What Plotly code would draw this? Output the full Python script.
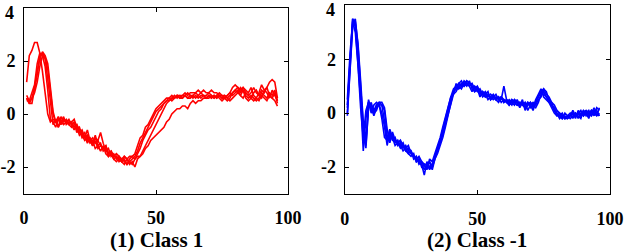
import plotly.graph_objects as go

x_values = list(range(1, 97))

class1_series = [
    [1.2, 2.2, 2.4, 2.7, 2.7, 2.3, 1.6, 0.8, 0.0, -0.3,
     -0.2, -0.3, -0.1, -0.3, -0.2, -0.3, -0.4, -0.3, -0.5, -0.4,
     -0.7, -0.6, -0.9, -0.8, -1.0, -0.9, -1.1, -1.0, -1.2, -1.3,
     -1.2, -1.5, -1.4, -1.6, -1.6, -1.7, -1.8, -1.7, -1.9, -1.8,
     -1.7, -1.6, -1.4, -1.1, -0.9, -0.7, -0.5, -0.3, -0.1, 0.1,
     0.2, 0.3, 0.4, 0.5, 0.5, 0.6, 0.7, 0.6, 0.7, 0.7,
     0.8, 0.7, 0.8, 0.8, 0.8, 0.9, 0.8, 0.9, 0.8, 0.8,
     0.9, 0.8, 0.8, 0.7, 0.7, 0.7, 0.6, 0.7, 0.8, 0.9,
     1.0, 0.9, 1.0, 0.8, 0.7, 0.8, 1.0, 0.8, 0.7, 0.9,
     0.8, 1.0, 1.2, 1.3, 1.2, 0.6],
    [0.6, 0.4, 0.4, 0.9, 1.5, 2.2, 2.3, 2.1, 1.4, 0.5,
     -0.4, -0.2, -0.5, -0.1, -0.3, -0.2, -0.4, -0.5, -0.3, -0.6,
     -0.5, -0.8, -0.7, -1.0, -0.9, -1.1, -0.8, -1.2, -1.1, -1.4,
     -1.3, -1.6, -1.5, -1.7, -1.6, -1.8, -1.7, -1.8, -1.9, -1.7,
     -1.6, -1.5, -1.2, -0.9, -0.8, -0.5, -0.4, -0.2, 0.0, 0.2,
     0.3, 0.4, 0.5, 0.6, 0.6, 0.7, 0.6, 0.7, 0.7, 0.6,
     0.7, 0.6, 0.7, 0.6, 0.7, 0.6, 0.7, 0.7, 0.6, 0.7,
     0.6, 0.7, 0.6, 0.7, 0.6, 0.6, 0.5, 0.6, 0.8, 0.9,
     0.8, 1.0, 0.9, 0.7, 0.6, 0.7, 0.6, 0.5, 0.6, 0.8,
     0.7, 0.6, 0.8, 0.7, 0.9, 0.5],
    [0.5, 0.5, 0.8, 1.1, 1.9, 2.3, 2.2, 1.8, 0.9, -0.2,
     -0.3, -0.5, -0.2, -0.3, -0.1, -0.4, -0.3, -0.3, -0.2, -0.5,
     -0.8, -0.7, -0.9, -0.6, -1.0, -1.2, -0.9, -1.0, -0.7, -1.1,
     -1.4, -1.3, -1.6, -1.5, -1.7, -1.6, -1.8, -1.9, -1.7, -1.8,
     -1.9, -1.7, -1.5, -1.3, -1.0, -0.8, -0.6, -0.5, -0.3, -0.1,
     0.1, 0.2, 0.4, 0.5, 0.6, 0.5, 0.6, 0.7, 0.6, 0.7,
     0.7, 0.8, 0.7, 0.7, 0.8, 0.7, 0.6, 0.7, 0.7, 0.8,
     0.7, 0.6, 0.7, 0.6, 0.5, 0.6, 0.7, 0.8, 0.7, 0.8,
     0.9, 0.7, 0.6, 0.8, 0.7, 0.6, 0.8, 0.9, 0.7, 0.6,
     0.9, 1.0, 0.7, 0.6, 0.5, 0.3],
    [0.7, 0.5, 0.6, 0.8, 1.2, 1.8, 2.2, 2.1, 1.7, 0.8,
     0.0, -0.3, -0.2, -0.4, -0.2, -0.3, -0.2, -0.4, -0.6, -0.4,
     -0.6, -0.9, -0.8, -1.1, -0.9, -1.2, -1.0, -1.3, -1.2, -1.3,
     -1.2, -1.5, -1.4, -1.6, -1.5, -1.6, -1.7, -1.6, -1.7, -1.6,
     -1.6, -1.7, -1.6, -1.6, -1.5, -1.3, -1.2, -1.0, -0.9, -0.8,
     -0.7, -0.6, -0.5, -0.3, -0.2, 0.0, 0.1, 0.2, 0.2, 0.3,
     0.3, 0.2, 0.4, 0.5, 0.4, 0.5, 0.5, 0.6, 0.6, 0.7,
     0.6, 0.7, 0.6, 0.7, 0.6, 0.7, 0.6, 0.5, 0.6, 0.7,
     0.8, 0.7, 0.9, 0.6, 0.5, 0.6, 0.5, 0.6, 0.5, 0.7,
     0.6, 0.5, 0.7, 0.6, 0.8, 0.4],
    [0.6, 0.4, 0.6, 1.0, 1.6, 2.1, 2.35, 2.2, 1.9, 1.1,
     0.1, -0.3, -0.5, -0.3, -0.4, -0.3, -0.3, -0.4, -0.3, -0.7,
     -0.6, -0.8, -1.0, -0.9, -1.1, -1.0, -1.3, -1.2, -1.4, -1.2,
     -1.5, -1.6, -1.5, -1.7, -1.8, -1.7, -1.8, -1.6, -1.7, -1.9,
     -1.8, -2.0, -1.7, -1.6, -1.4, -1.2, -1.0, -0.8, -0.6, -0.4,
     -0.2, 0.0, 0.2, 0.4, 0.5, 0.6, 0.6, 0.7, 0.6, 0.6,
     0.7, 0.6, 0.6, 0.7, 0.6, 0.7, 0.8, 0.7, 0.6, 0.6,
     0.7, 0.6, 0.7, 0.8, 0.7, 0.6, 0.7, 0.8, 1.0, 1.1,
     1.0, 0.8, 1.0, 0.9, 0.8, 1.0, 0.7, 0.6, 0.8, 1.1,
     0.9, 0.8, 0.6, 0.9, 0.7, 0.5],
]

class_neg1_series = [
    [0.3, 1.8, 3.5, 3.2, 2.0, 0.5, -1.4, -0.2, 0.5, 0.1,
     0.0, 0.3, 0.3, -0.2, -0.9, -1.0, -0.6, -0.9, -1.0, -1.1,
     -1.0, -1.2, -1.3, -1.2, -1.5, -1.6, -1.7, -1.8, -1.9, -2.3,
     -1.8, -2.0, -1.9, -1.6, -1.3, -1.0, -0.6, -0.2, 0.2, 0.6,
     0.7, 1.1, 0.9, 1.0, 1.1, 1.2, 1.1, 1.0, 0.9, 1.0,
     0.8, 0.7, 0.8, 0.6, 0.7, 0.6, 0.5, 0.6, 0.5, 1.0,
     0.5, 0.4, 0.5, 0.4, 0.3, 0.4, 0.3, 0.4, 0.1, 0.3,
     0.1, 0.4, 0.6, 0.8, 0.9, 0.7, 0.6, 0.4, 0.3, 0.1,
     0.0, -0.1, -0.2, -0.2, -0.1, 0.0, -0.1, 0.0, -0.1, 0.1,
     -0.1, 0.0, 0.1, -0.1, 0.2, 0.1],
    [0.0, 1.5, 3.3, 3.5, 2.5, 1.0, -0.5, -1.2, 0.2, 0.4,
     0.0, 0.1, 0.4, 0.4, 0.2, -0.6, -1.0, -0.8, -1.1, -1.0,
     -1.2, -1.1, -1.4, -1.3, -1.4, -1.7, -1.6, -1.9, -1.8, -2.0,
     -2.0, -1.8, -2.1, -1.7, -1.4, -1.1, -0.8, -0.4, 0.0, 0.4,
     0.7, 0.8, 1.0, 0.9, 1.1, 1.0, 1.2, 0.9, 0.8, 0.9,
     0.7, 0.8, 0.6, 0.7, 0.6, 0.5, 0.6, 0.5, 0.6, 0.4,
     0.5, 0.4, 0.3, 0.5, 0.4, 0.2, 0.4, 0.3, 0.4, 0.2,
     0.3, 0.2, 0.4, 0.7, 0.8, 0.6, 0.5, 0.4, 0.1, 0.0,
     -0.1, 0.0, -0.2, -0.1, -0.2, -0.1, 0.0, -0.2, 0.0, -0.1,
     0.1, -0.1, 0.0, 0.2, 0.0, -0.1],
    [0.5, 2.2, 3.4, 3.0, 1.8, 0.2, -0.9, 0.1, 0.4, 0.0,
     0.3, 0.4, 0.3, 0.0, -0.5, -1.2, -0.7, -0.9, -1.2, -1.1,
     -1.3, -1.2, -1.4, -1.5, -1.6, -1.5, -1.8, -1.7, -2.0, -1.9,
     -2.1, -1.7, -1.8, -1.5, -1.2, -0.9, -0.5, -0.1, 0.3, 0.6,
     0.9, 1.0, 1.1, 1.2, 1.0, 1.1, 1.0, 0.8, 1.0, 0.9,
     0.6, 0.8, 0.7, 0.5, 0.6, 0.7, 0.5, 0.6, 0.4, 0.5,
     0.4, 0.5, 0.4, 0.3, 0.5, 0.3, 0.4, 0.2, 0.3, 0.4,
     0.2, 0.5, 0.7, 0.9, 0.6, 0.5, 0.4, 0.2, 0.0, -0.1,
     0.0, -0.2, -0.1, -0.2, -0.1, 0.1, -0.1, 0.0, 0.1, -0.1,
     0.0, 0.1, -0.1, 0.1, -0.1, 0.2],
    [0.2, 2.0, 3.5, 3.3, 2.2, 0.8, -0.8, -1.3, 0.3, 0.2,
     -0.1, 0.2, 0.3, 0.3, -0.3, -1.0, -0.8, -1.0, -0.9, -1.2,
     -1.1, -1.3, -1.2, -1.4, -1.5, -1.6, -1.7, -1.6, -1.8, -1.9,
     -1.9, -2.1, -1.9, -1.6, -1.3, -1.0, -0.7, -0.3, 0.1, 0.5,
     0.8, 0.9, 1.1, 1.0, 1.2, 1.1, 1.0, 1.1, 0.9, 0.8,
     0.9, 0.7, 0.6, 0.7, 0.5, 0.6, 0.7, 0.5, 0.6, 0.5,
     0.4, 0.3, 0.5, 0.4, 0.3, 0.4, 0.3, 0.2, 0.4, 0.3,
     0.4, 0.3, 0.5, 0.6, 0.9, 0.8, 0.5, 0.3, 0.2, 0.0,
     -0.2, -0.1, -0.2, -0.1, 0.0, -0.2, 0.0, -0.1, -0.2, 0.1,
     0.0, -0.2, 0.1, 0.0, -0.1, 0.0],
    [-0.1, 1.6, 3.2, 3.4, 2.6, 1.2, -0.3, -1.0, 0.4, 0.3,
     0.1, 0.3, 0.4, 0.3, 0.1, -0.8, -1.1, -0.7, -1.0, -1.1,
     -1.2, -1.4, -1.3, -1.5, -1.4, -1.6, -1.8, -1.7, -1.9, -2.1,
     -1.9, -1.8, -2.0, -1.7, -1.5, -1.2, -0.9, -0.5, -0.1, 0.4,
     0.8, 0.9, 1.0, 1.1, 1.0, 1.2, 1.1, 1.0, 0.8, 0.9,
     0.8, 0.6, 0.7, 0.8, 0.5, 0.6, 0.5, 0.4, 0.6, 0.4,
     0.5, 0.3, 0.4, 0.5, 0.4, 0.3, 0.5, 0.1, 0.3, 0.4,
     0.3, 0.4, 0.6, 0.8, 0.7, 0.6, 0.4, 0.3, 0.1, -0.1,
     -0.1, -0.2, 0.0, -0.1, -0.1, 0.0, -0.2, 0.1, -0.1, 0.0,
     0.1, 0.0, -0.1, 0.1, 0.1, -0.1],
]

x_tick_vals = [0, 50, 100]
x_tick_text = ["0", "50", "100"]
y_tick_vals = [-2, 0, 2, 4]
y_tick_text = ["-2", "0", "2", ""]   # top label "4" drawn as annotation (nudged down to stay in view)
y_top_label = "4"
panel_titles = ["(1) Class 1", "(2) Class -1"]

W, H = 624, 252
fig = go.Figure()

for s in class1_series:
    fig.add_trace(go.Scatter(x=x_values, y=s, mode="lines", xaxis="x", yaxis="y",
                             line=dict(color="#ff0000", width=1.6), showlegend=False))
for s in class_neg1_series:
    fig.add_trace(go.Scatter(x=x_values, y=s, mode="lines", xaxis="x2", yaxis="y2",
                             line=dict(color="#0000ff", width=1.6), showlegend=False))

tick_font = dict(family="Liberation Serif", size=18, color="black", weight="bold")
common_axis = dict(showgrid=False, zeroline=False, showline=True, mirror="ticks",
                   linecolor="black", linewidth=1, ticks="inside", ticklen=4,
                   tickcolor="black", tickfont=tick_font, automargin=False,
                   ticklabeloverflow="allow")

title_font = dict(family="Liberation Serif", size=21, color="black", weight="bold")

fig.update_layout(
    width=W, height=H,
    margin=dict(l=0, r=0, t=0, b=0),
    paper_bgcolor="white", plot_bgcolor="white",
    xaxis=dict(domain=[24 / W, 288 / W], range=[0, 100], tickvals=x_tick_vals,
               ticktext=x_tick_text, ticklabelstandoff=8, anchor="y", **common_axis),
    yaxis=dict(domain=[1 - 193.5 / H, 1 - 8 / H], range=[-3, 4], tickvals=y_tick_vals,
               ticktext=y_tick_text, ticklabelstandoff=4, anchor="x", **common_axis),
    xaxis2=dict(domain=[344.7 / W, 610 / W], range=[0, 100], tickvals=x_tick_vals,
                ticktext=x_tick_text, ticklabelstandoff=8, anchor="y2", **common_axis),
    yaxis2=dict(domain=[1 - 194 / H, 1 - 5.3 / H], range=[-3, 4], tickvals=y_tick_vals,
                ticktext=y_tick_text, ticklabelstandoff=4, anchor="x2", **common_axis),
    annotations=[
        dict(text=panel_titles[0], x=156 / W, y=(H - 240) / H, xref="paper", yref="paper",
             xanchor="center", yanchor="middle", showarrow=False, font=title_font),
        dict(text=panel_titles[1], x=477 / W, y=(H - 240) / H, xref="paper", yref="paper",
             xanchor="center", yanchor="middle", showarrow=False, font=title_font),
        dict(text=y_top_label, x=16 / W, y=1 - 13 / H, xref="paper", yref="paper",
             xanchor="right", yanchor="middle", showarrow=False, font=tick_font),
        dict(text=y_top_label, x=336.5 / W, y=1 - 10 / H, xref="paper", yref="paper",
             xanchor="right", yanchor="middle", showarrow=False, font=tick_font),
    ],
)

fig.write_html("out.html", config={"displayModeBar": False},
               post_script="document.body.style.margin='0';")
